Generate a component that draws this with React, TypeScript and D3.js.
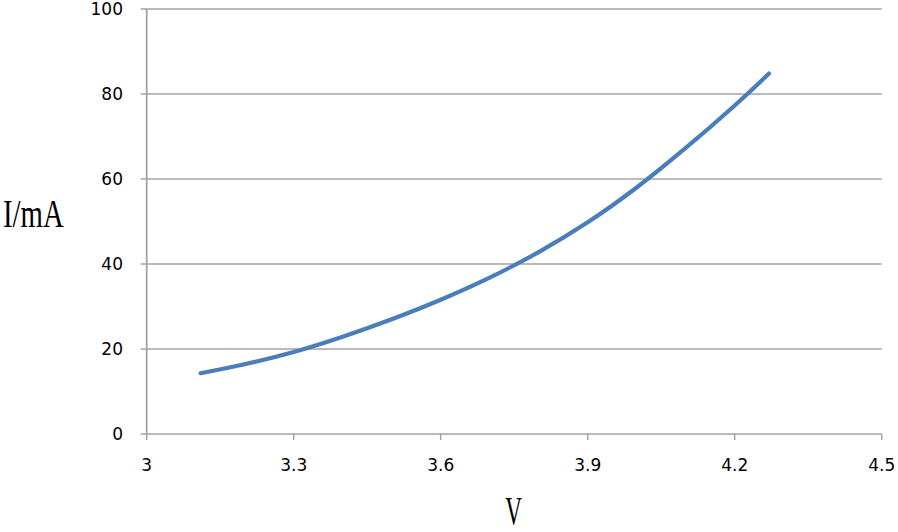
import { useMemo } from 'react';
import * as d3 from 'd3';

const voltage = [3.11, 3.2, 3.3, 3.4, 3.5, 3.6, 3.7, 3.8, 3.9, 4.0, 4.1, 4.2, 4.27];
const current = [14.3, 16.4, 19.3, 22.9, 27.0, 31.6, 36.8, 42.8, 49.8, 58.0, 67.3, 77.3, 84.8];
const xTicks = [3, 3.3, 3.6, 3.9, 4.2, 4.5];
const yTicks = [0, 20, 40, 60, 80, 100];

const W = 898;
const H = 532;
const GRID = '#a3a3a3';
const TICK_FONT = "'DejaVu Sans', Verdana, sans-serif";

export default function App() {
  const x = useMemo(() => d3.scaleLinear().domain([3, 4.5]).range([146.7, 881.7]), []);
  const y = useMemo(() => d3.scaleLinear().domain([0, 100]).range([434, 9]), []);

  const points = voltage.map((v, i) => [v, current[i]] as [number, number]);
  const path = d3
    .line<[number, number]>()
    .x((d) => x(d[0]))
    .y((d) => y(d[1]))
    .curve(d3.curveCatmullRom.alpha(0.5))(points);

  const [x0, x1] = x.range();
  const [y0] = y.range();

  return (
    <div style={{ position: 'absolute', left: 0, top: 0 }}>
      <svg width={W} height={H} style={{ display: 'block', background: '#fff' }}>
        {/* horizontal grid + y ticks */}
        {yTicks.map((t) => (
          <g key={t}>
            <line x1={x0 - 6} x2={x1} y1={y(t)} y2={y(t)} stroke={GRID} strokeWidth={1.5} />
            <text x={123} y={y(t)} dy="0.36em" textAnchor="end" fontFamily={TICK_FONT} fontSize={17} fill="#000">
              {t}
            </text>
          </g>
        ))}

        {/* y axis */}
        <line x1={x0} x2={x0} y1={y(100)} y2={y0} stroke={GRID} strokeWidth={1.8} />

        {/* x ticks */}
        {xTicks.map((t) => (
          <g key={t}>
            <line x1={x(t)} x2={x(t)} y1={y0} y2={y0 + 6} stroke={GRID} strokeWidth={1.5} />
            <text x={x(t)} y={465} dy="0.36em" textAnchor="middle" fontFamily={TICK_FONT} fontSize={17} fill="#000">
              {t}
            </text>
          </g>
        ))}

        {/* data curve */}
        <path d={path ?? ''} fill="none" stroke="#4a7ebb" strokeWidth={4.2} strokeLinecap="round" />

        {/* axis titles */}
        <text
          transform="translate(3,227) scale(0.72,1)"
          fontFamily="'Liberation Serif', 'DejaVu Serif', serif"
          fontSize={40}
          fill="#000"
        >
          I/mA
        </text>
        <text
          transform="translate(513.5,524) scale(0.58,1)"
          textAnchor="middle"
          fontFamily="'Liberation Serif', 'DejaVu Serif', serif"
          fontSize={40}
          fill="#000"
        >
          V
        </text>
      </svg>
    </div>
  );
}
